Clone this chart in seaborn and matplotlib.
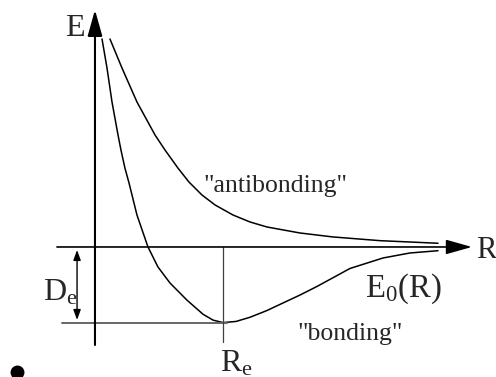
import numpy as np
import pandas as pd
import matplotlib
matplotlib.use("Agg")
import matplotlib.pyplot as plt
import seaborn as sns
from matplotlib.patches import ArrowStyle

# potential curves (R in units of Re, E in units of De)
bond_R = [0.055, 0.094, 0.133, 0.180, 0.203, 0.234, 0.266, 0.328, 0.414,
          0.492, 0.586, 0.719, 0.844, 0.922, 1.0, 1.102, 1.211, 1.344,
          1.469, 1.602, 1.734, 1.992, 2.25, 2.461, 2.68]
bond_E = [2.737, 2.355, 1.908, 1.474, 1.276, 1.039, 0.842, 0.421, 0.0,
          -0.263, -0.474, -0.70, -0.885, -0.962, -0.995, -0.98, -0.925, -0.836,
          -0.737, -0.632, -0.520, -0.283, -0.145, -0.079, -0.049]
anti_R = [0.117, 0.211, 0.328, 0.469, 0.547, 0.648, 0.734, 0.836, 0.938,
          1.078, 1.211, 1.344, 1.602, 1.859, 2.227, 2.68]
anti_E = [2.737, 2.355, 1.908, 1.474, 1.276, 1.039, 0.855, 0.684, 0.553,
          0.421, 0.329, 0.263, 0.184, 0.132, 0.083, 0.049]
Re = 1.0
De = 1.0

bonding = pd.DataFrame({"R": bond_R, "E": bond_E})
antibonding = pd.DataFrame({"R": anti_R, "E": anti_E})

sns.set_style("white")
plt.rcParams["font.family"] = ["Liberation Serif", "DejaVu Serif"]
plt.rcParams["mathtext.fontset"] = "custom"
plt.rcParams["mathtext.rm"] = "Liberation Serif"
plt.rcParams["mathtext.it"] = "Liberation Serif"

fig = plt.figure(figsize=(4.96, 3.77), dpi=100)
ax = fig.add_axes([0, 0, 1, 1])
ax.set_xlim(-0.742, 3.133)
ax.set_ylim(-1.711, 3.25)
ax.set_axis_off()

sns.lineplot(data=bonding, x="R", y="E", ax=ax, color="black", lw=1.1,
             sort=False, legend=False)
sns.lineplot(data=antibonding, x="R", y="E", ax=ax, color="black", lw=1.1,
             sort=False, legend=False)

# axes with arrows
big = ArrowStyle("-|>", head_length=1.6, head_width=0.45)
ax.annotate("", xy=(0, 3.12), xytext=(0, -1.29),
            arrowprops=dict(arrowstyle=big, color="black", lw=1.5,
                            shrinkA=0, shrinkB=0, mutation_scale=10))
ax.annotate("", xy=(2.945, 0), xytext=(-0.297, 0),
            arrowprops=dict(arrowstyle=big, color="black", lw=1.2,
                            shrinkA=0, shrinkB=0, mutation_scale=10))

# minimum marker lines
ax.plot([-0.258, Re + 0.03], [-De, -De], color="0.4", lw=1.4)
ax.plot([Re, Re], [0, -1.25], color="0.25", lw=0.9)

# dissociation energy arrow
small = ArrowStyle("<|-|>", head_length=0.6, head_width=0.22)
ax.annotate("", xy=(-0.14, -0.96 * De), xytext=(-0.14, -0.04),
            arrowprops=dict(arrowstyle=small, color="black", lw=1.0,
                            shrinkA=0, shrinkB=0, mutation_scale=10))

ax.text(-0.234, 2.78, "E", fontsize=23, va="baseline")
ax.text(2.98, -0.145, "R", fontsize=22, va="baseline")
ax.text(-0.406, -0.70, r"$\mathrm{D_e}$", fontsize=23, va="baseline")
ax.text(0.977, -1.64, r"$\mathrm{R_e}$", fontsize=23, va="baseline")
ax.text(2.11, -0.66, r"$\mathrm{E_0(R)}$", fontsize=23.5, va="baseline")
ax.text(0.844, 0.72, '"antibonding"', fontsize=18.5, va="baseline")
ax.text(1.58, -1.22, '"bonding"', fontsize=18.5, va="baseline")
ax.plot([-0.61], [-1.64], "o", color="black", ms=9)

plt.savefig("out.png", dpi=100)
